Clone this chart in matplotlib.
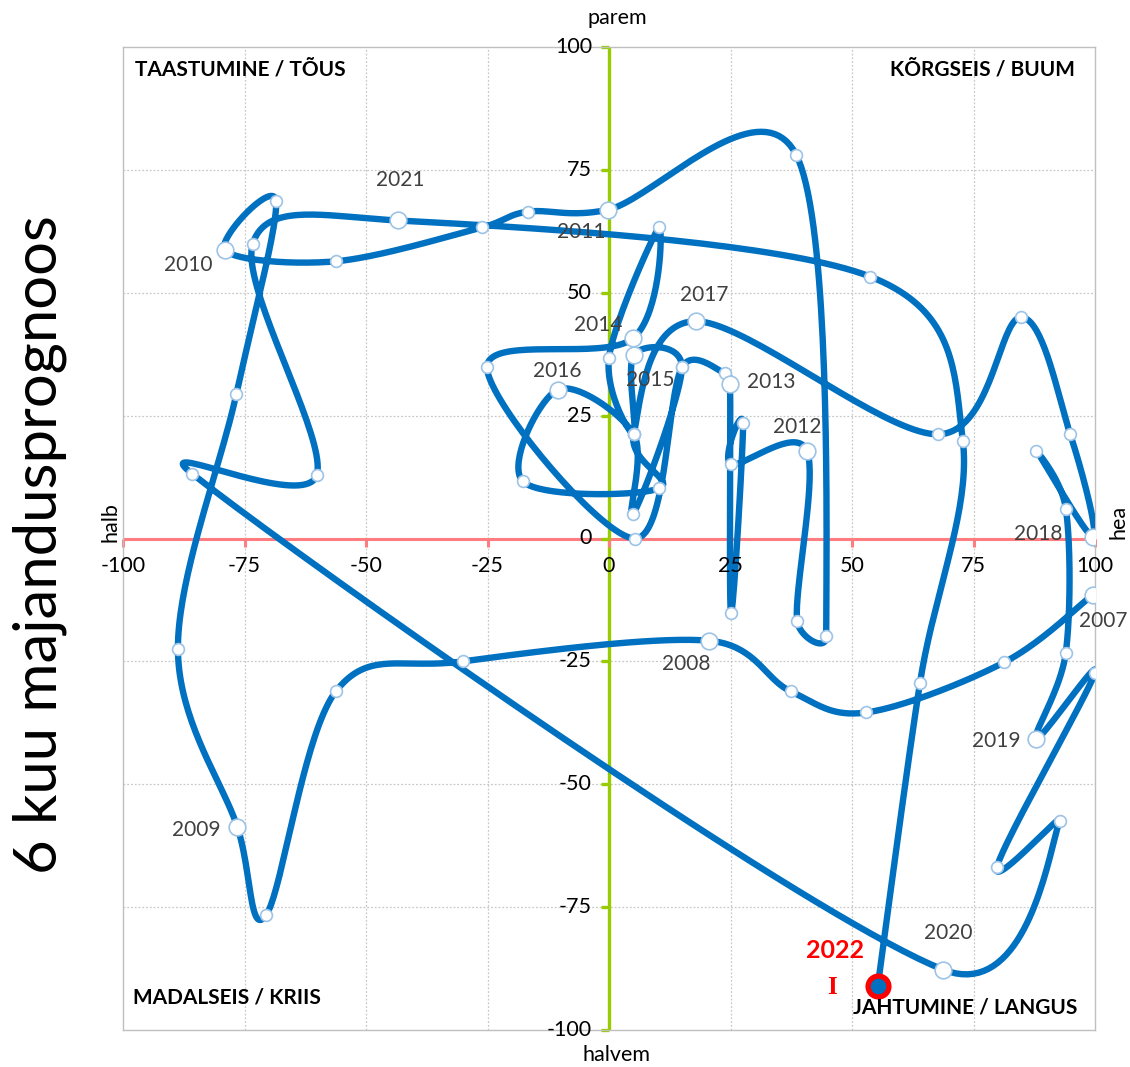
import numpy as np
import matplotlib
matplotlib.use("Agg")
import matplotlib.pyplot as plt
from matplotlib.transforms import offset_copy

plt.rcParams['font.family'] = ['Lato', 'DejaVu Sans']

# ---- data: (current situation, 6-month outlook) in path order ----
path_x = [99.6, 81.3, 52.9, 37.4,
          20.6, -30.0, -56.2, -70.6,
          -76.5, -88.7, -76.7, -68.5,
          -79.0, -56.2, -26.1, -16.7,
          -0.2, 38.5, 44.7, 38.7,
          40.7, 25.1, 27.6, 25.1,
          24.9, 23.9, 15.0, 5.3, -25.1,
          4.9, 10.3, 0.0, 5.1,
          5.1, 15.0, 4.9, 5.1,
          -10.5, -17.7, 10.3, 5.1,
          17.9, 67.7, 84.8, 94.9,
          99.6, 87.9, 94.0, 94.0,
          87.9, 100.0, 79.8, 92.8,
          68.7, -85.8, -60.1, -73.3,
          -43.4, 53.7, 72.8, 64.0,
          55.3]
path_y = [-11.4, -25.2, -35.4, -31.1,
          -20.8, -25.0, -31.1, -76.7,
          -58.6, -22.4, 29.3, 68.6,
          58.6, 56.4, 63.3, 66.5,
          66.9, 78.1, -19.9, -16.7,
          17.9, 15.1, 23.4, -15.1,
          31.5, 33.6, 34.8, 0.0, 34.8,
          40.7, 63.3, 36.8, 21.2,
          37.4, 34.8, 4.9, 21.2,
          30.3, 11.6, 10.2, 21.2,
          44.2, 21.2, 45.0, 21.2,
          0.4, 17.9, 6.1, -23.2,
          -40.7, -27.3, -66.9, -57.4,
          -87.7, 13.2, 13.0, 60.0,
          64.7, 53.3, 19.9, -29.3,
          -91.1]
# year label for each point ('' = intermediate point)
path_year = ['2007', '', '', '',
             '2008', '', '', '',
             '2009', '', '', '',
             '2010', '', '', '',
             '2011', '', '', '',
             '2012', '', '', '',
             '2013', '', '', '', '',
             '2014', '', '', '',
             '2015', '', '', '',
             '2016', '', '', '',
             '2017', '', '', '',
             '2018', '', '', '',
             '2019', '', '', '',
             '2020', '', '', '',
             '2021', '', '', '',
             '2022']
ticks = [-100, -75, -50, -25, 0, 25, 50, 75, 100]
tick_labels = ['-100', '-75', '-50', '-25', '0', '25', '50', '75', '100']

# label offsets (pixels, dx right, dy down) from each year marker
label_offsets = {'2007': (10, 26), '2008': (-23, 23), '2009': (-41, 3),
                 '2010': (-37, 15), '2011': (-27, 22), '2012': (-10, -24),
                 '2013': (41, -2), '2014': (-35, -13), '2015': (16, 25),
                 '2016': (-1, -19), '2017': (8, -26), '2018': (-55, -3),
                 '2019': (-40, 2), '2020': (5, -37), '2021': (2, -40)}

LINE = '#0070C0'


def smooth_path(xs, ys, n=40):
    """Excel-like smoothed line: Catmull-Rom Bezier with handles capped at half a segment."""
    P = np.column_stack([xs, ys]).astype(float)
    out = [P[0]]
    m = len(P)
    for i in range(m - 1):
        p0 = P[i - 1] if i > 0 else P[i]
        p1 = P[i]
        p2 = P[i + 1]
        p3 = P[i + 2] if i + 2 < m else P[i + 1]
        d12 = np.hypot(*(p2 - p1))
        d02 = np.hypot(*(p2 - p0))
        d13 = np.hypot(*(p3 - p1))
        f1 = 1 / 6.0 if d02 == 0 else min(1 / 6.0, d12 / (2 * d02))
        f2 = 1 / 6.0 if d13 == 0 else min(1 / 6.0, d12 / (2 * d13))
        c1 = p1 + (p2 - p0) * f1
        c2 = p2 - (p3 - p1) * f2
        t = np.linspace(0, 1, n)[1:, None]
        seg = ((1 - t) ** 3) * p1 + 3 * ((1 - t) ** 2) * t * c1 + 3 * (1 - t) * t ** 2 * c2 + t ** 3 * p2
        out.extend(seg)
    out = np.array(out)
    return out[:, 0], out[:, 1]


W, H = 1130, 1067
fig = plt.figure(figsize=(W / 100, H / 100), dpi=100)
ax = fig.add_axes([123 / W, 1 - 1030 / H, (1095 - 123) / W, (1030 - 47) / H])
ax.set_xlim(-100, 100)
ax.set_ylim(-100, 100)
ax.set_xticks([])
ax.set_yticks([])
for s in ax.spines.values():
    s.set_color('#BFBFBF')
    s.set_linewidth(1.0)

# grid
for t in ticks:
    if t in (-100, 0, 100):
        continue
    ax.axvline(t, color='#C8C8C8', lw=0.9, ls=(0, (1.5, 1.5)), zorder=1)
    ax.axhline(t, color='#C8C8C8', lw=0.9, ls=(0, (1.5, 1.5)), zorder=1)

# axes lines
ax.axhline(0, color='#FF7C80', lw=2.2, zorder=2)
ax.axvline(0, color='#99CC00', lw=2.4, zorder=2)
ax.plot(ticks, [0] * len(ticks), ls='none', marker=3, ms=6, mew=2.2, color='#FF7C80', zorder=2, clip_on=False)
ax.plot([0] * len(ticks), ticks, ls='none', marker=0, ms=6, mew=2.4, color='#99CC00', zorder=2, clip_on=False)

# tick labels
tf = dict(fontsize=15.5, color='black', zorder=6)
for t, lab in zip(ticks, tick_labels):
    tr = offset_copy(ax.transData, fig=fig, x=0, y=-27 * 0.72, units='points')
    ax.text(t, 0, lab, transform=tr, ha='center', va='center', clip_on=False, **tf)
    tr2 = offset_copy(ax.transData, fig=fig, x=-17 * 0.72, y=0, units='points')
    ax.text(0, t, lab, transform=tr2, ha='right', va='center', clip_on=False, **tf)

# curve
cx, cy = smooth_path(path_x, path_y)
ax.plot(cx, cy, color=LINE, lw=4.6, solid_capstyle='round', solid_joinstyle='round', zorder=3)

# markers
small_x = [x for x, yl in zip(path_x, path_year) if yl == '']
small_y = [y for y, yl in zip(path_y, path_year) if yl == '']
big_x = [x for x, yl in zip(path_x, path_year) if yl not in ('', '2022')]
big_y = [y for y, yl in zip(path_y, path_year) if yl not in ('', '2022')]
ax.plot(small_x, small_y, ls='none', marker='o', ms=8.5, mfc='white', mec='#9DC3E6', mew=1.2, zorder=4)
ax.plot(big_x, big_y, ls='none', marker='o', ms=12, mfc='white', mec='#9DC3E6', mew=1.2, zorder=4)
ax.plot(path_x[-1:], path_y[-1:], ls='none', marker='o', ms=15, mfc=LINE, mec='#FF0000', mew=3.8, zorder=5)

# year labels
for x, y, yl in zip(path_x, path_y, path_year):
    if yl in label_offsets:
        dx, dy = label_offsets[yl]
        tr = offset_copy(ax.transData, fig=fig, x=dx * 0.72, y=-dy * 0.72, units='points')
        ax.text(x, y, yl, transform=tr, ha='center', va='center', fontsize=15,
                color='#404040', zorder=6, clip_on=False)
tr = offset_copy(ax.transData, fig=fig, x=-43 * 0.72, y=36 * 0.72, units='points')
ax.text(path_x[-1], path_y[-1], '2022', transform=tr, ha='center', va='center', fontsize=18,
        fontweight='bold', color='#FF0000', zorder=6)
tr = offset_copy(ax.transData, fig=fig, x=-46 * 0.72, y=-1 * 0.72, units='points')
ax.text(path_x[-1], path_y[-1], 'I', transform=tr, ha='center', va='center', fontsize=18,
        fontweight='bold', color='#FF0000', family=['Liberation Serif', 'DejaVu Serif'], zorder=6)

# quadrant labels
qf = dict(fontsize=15, fontweight='bold', color='black')
fig.text(135 / W, 1 - 70 / H, 'TAASTUMINE / TÕUS', ha='left', va='center', **qf)
fig.text(1075 / W, 1 - 70 / H, 'KÕRGSEIS / BUUM', ha='right', va='center', **qf)
fig.text(133 / W, 1 - 997 / H, 'MADALSEIS / KRIIS', ha='left', va='center', **qf)
fig.text(1077 / W, 1 - 1008 / H, 'JAHTUMINE / LANGUS', ha='right', va='center', **qf)

# axis direction labels
fig.text(617 / W, 1 - 18 / H, 'parem', ha='center', va='center', fontsize=15.5)
fig.text(617 / W, 1 - 1055 / H, 'halvem', ha='center', va='center', fontsize=15.5)
fig.text(111 / W, 1 - 522 / H, 'halb', ha='center', va='center', rotation=90, fontsize=15.5)
fig.text(1118 / W, 1 - 522 / H, 'hea', ha='center', va='center', rotation=90, fontsize=15.5)

fig.text(40 / W, 1 - 545 / H, '6 kuu majandusprognoos', ha='center', va='center', rotation=90, fontsize=43)

fig.savefig('out.png', dpi=100)
